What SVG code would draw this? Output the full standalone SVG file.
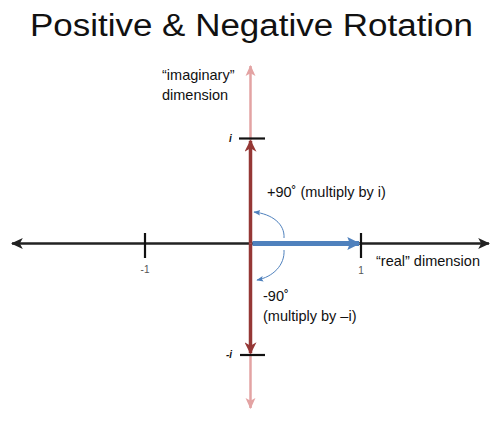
<svg xmlns="http://www.w3.org/2000/svg" width="500" height="421" viewBox="0 0 500 421">
<style>
text{font-family:"Liberation Sans",Arial,sans-serif;fill:#111}
.lbl{font-size:14.5px}
.tick{stroke:#111;stroke-width:2.2}
.num{font-size:10px;fill:#555}
.cx{font-size:10px;font-weight:bold;font-style:italic}
.arc{fill:none;stroke:#4f81bd;stroke-width:1}
</style>
<defs>
<marker id="mBlack" markerUnits="userSpaceOnUse" markerWidth="12" markerHeight="12" refX="9" refY="5" orient="auto-start-reverse" viewBox="0 0 10 10"><path d="M0,0.5 L10,5 L0,9.5 L2.5,5 Z" fill="#222"/></marker>
<marker id="mPink" markerUnits="userSpaceOnUse" markerWidth="11" markerHeight="11" refX="9" refY="5" orient="auto-start-reverse" viewBox="0 0 10 10"><path d="M0,0.5 L10,5 L0,9.5 L2.5,5 Z" fill="#e3a3a3"/></marker>
<marker id="mRed" markerUnits="userSpaceOnUse" markerWidth="12" markerHeight="12" refX="9" refY="5" orient="auto-start-reverse" viewBox="0 0 10 10"><path d="M0,0 L10,5 L0,10 L3,5 Z" fill="#953735"/></marker>
<marker id="mBlue" markerUnits="userSpaceOnUse" markerWidth="13" markerHeight="13" refX="9" refY="5" orient="auto" viewBox="0 0 10 10"><path d="M0,0 L10,5 L0,10 L2,5 Z" fill="#4f81bd"/></marker>
<marker id="mArc" markerUnits="userSpaceOnUse" markerWidth="7" markerHeight="7" refX="9" refY="5" orient="auto" viewBox="0 0 10 10"><path d="M0,1 L10,5 L0,9 L2,5 Z" fill="#4f81bd"/></marker>
</defs>

<g id="title"><text x="30" y="36" font-size="31" textLength="443" lengthAdjust="spacingAndGlyphs">Positive &amp; Negative Rotation</text></g>

<g id="connectors">
<line id="real-axis" x1="12" y1="243.5" x2="489" y2="243.5" stroke="#222" stroke-width="2.5" marker-start="url(#mBlack)" marker-end="url(#mBlack)"/>
<line id="imag-axis" x1="250.5" y1="66" x2="250.5" y2="408" stroke="#e3a3a3" stroke-width="2.5" marker-start="url(#mPink)" marker-end="url(#mPink)"/>
<line id="tick-i" class="tick" x1="239" y1="138.5" x2="265" y2="138.5"/>
<line id="tick-neg-i" class="tick" x1="240" y1="355" x2="265" y2="355"/>
<line id="tick-neg1" class="tick" x1="145" y1="233" x2="145" y2="258"/>
<line id="tick-1" class="tick" x1="361" y1="233" x2="361" y2="258"/>
<line id="up-arrow" x1="250.5" y1="243.5" x2="250.5" y2="141" stroke="#953735" stroke-width="3.5" marker-end="url(#mRed)"/>
<line id="down-arrow" x1="250.5" y1="243.5" x2="250.5" y2="353" stroke="#953735" stroke-width="3.5" marker-end="url(#mRed)"/>
<line id="unit-arrow" x1="252.5" y1="243.5" x2="359" y2="243.5" stroke="#4f81bd" stroke-width="5" marker-end="url(#mBlue)"/>
<path id="arc-pos" class="arc" d="M284,238 C285,224 272,214 254,212" marker-end="url(#mArc)"/>
<path id="arc-neg" class="arc" d="M284,250 C285,265 273,277 257,280" marker-end="url(#mArc)"/>
</g>

<g id="label-imag"><text class="lbl" x="162" y="80">“imaginary”</text><text class="lbl" x="162" y="100">dimension</text></g>
<g id="label-real"><text class="lbl" x="376" y="266">“real” dimension</text></g>
<g id="label-i"><text class="cx" x="229" y="142">i</text></g>
<g id="label-neg-i"><text class="cx" x="226" y="358">-i</text></g>
<g id="label-neg1"><text class="num" x="145" y="273" text-anchor="middle">-1</text></g>
<g id="label-1"><text class="num" x="361" y="274" text-anchor="middle">1</text></g>
<g id="label-pos90"><text class="lbl" x="267" y="197">+90˚ (multiply by i)</text></g>
<g id="label-neg90"><text class="lbl" x="263" y="301">-90˚</text><text class="lbl" x="263" y="321">(multiply by –i)</text></g>
</svg>
